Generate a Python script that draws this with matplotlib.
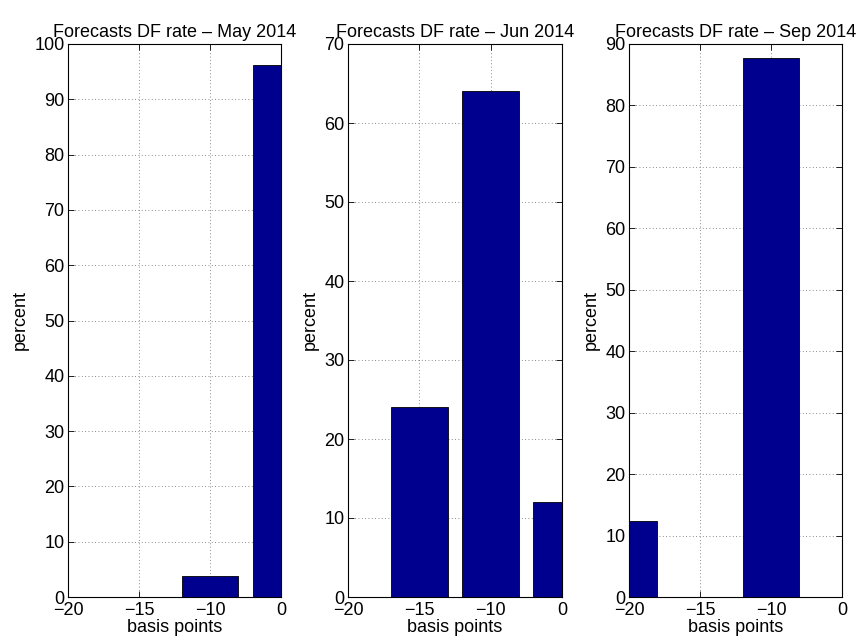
import matplotlib
matplotlib.use("Agg")
import matplotlib.pyplot as plt
import numpy as np

plt.rcParams['font.family'] = ['Liberation Sans', 'DejaVu Sans']
plt.rcParams['font.size'] = 13

# bins shared by the three panels (MATLAB style categorical bars)
bin_labels = ["\u221220", "\u221215", "\u221210", "0"]

titles = ["Forecasts DF rate \u2013 May 2014",
          "Forecasts DF rate \u2013 Jun 2014",
          "Forecasts DF rate \u2013 Sep 2014"]

may_values = [0.0, 0.0, 3.8, 96.2]
jun_values = [0.0, 24.0, 64.0, 12.0]
sep_values = [12.3, 0.0, 87.7, 0.0]

y_tops = [100, 70, 90]

BAR_COLOR = "#00008f"
FS = 13

fig = plt.figure(figsize=(8.64, 6.41), dpi=100)

lefts = [68 / 864, 348 / 864, 629 / 864]
widths = [213 / 864, 214 / 864, 213 / 864]
bottom = 44 / 641
height = 553 / 641

series = [may_values, jun_values, sep_values]
for i, vals in enumerate(series):
    ax = fig.add_axes([lefts[i], bottom, widths[i], height])
    pos = np.arange(len(bin_labels))
    ax.bar(pos, vals, width=0.8, color=BAR_COLOR, edgecolor="black",
           linewidth=0.6, zorder=3)
    ax.set_xlim(0, len(bin_labels) - 1)
    ax.set_ylim(0, y_tops[i])
    ax.set_xticks(pos)
    ax.set_xticklabels(bin_labels)
    ax.set_yticks(np.arange(0, y_tops[i] + 1, 10))
    ax.grid(True, linestyle=(0, (1, 3)), color="0.4", linewidth=0.6, zorder=1)
    ax.tick_params(direction="in", top=True, right=True, length=4,
                   width=0.6, labelsize=FS)
    ax.tick_params(axis="x", pad=3.5)
    ax.tick_params(axis="y", pad=2.5)
    for sp in ax.spines.values():
        sp.set_linewidth(0.8)
        sp.set_zorder(4)
    ax.set_title(titles[i], fontsize=FS, pad=5)
    ax.set_xlabel("basis points", fontsize=FS, labelpad=0)
    ax.set_ylabel("percent", fontsize=FS, labelpad=4)

fig.savefig("out.png", dpi=100)
